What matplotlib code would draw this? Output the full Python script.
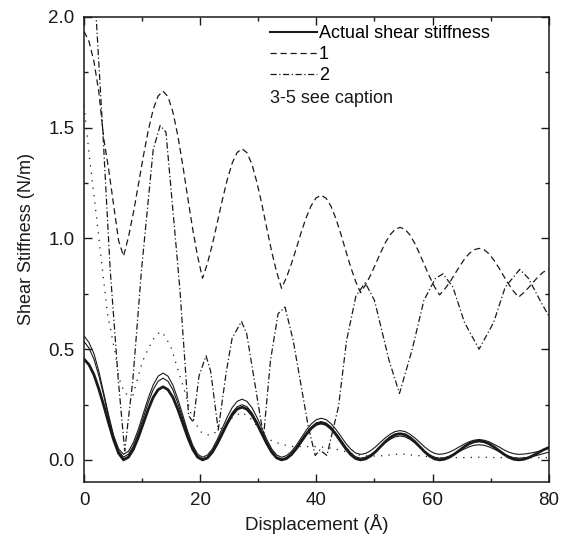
import matplotlib

matplotlib.use("Agg")
import matplotlib.pyplot as plt
from matplotlib.lines import Line2D
from matplotlib.ticker import MultipleLocator, FormatStrFormatter

plt.rcParams["font.family"] = ["Liberation Sans", "DejaVu Sans"]

# common grid for the smooth curves (Å), step 0.85
X_GRID = [0.0, 0.85, 1.7, 2.55, 3.4, 4.25, 5.1, 5.95, 6.8, 7.65, 8.5, 9.35, 10.2, 11.05,
          11.9, 12.75, 13.6, 14.45, 15.3, 16.15, 17.0, 17.85, 18.7, 19.55, 20.4, 21.25,
          22.1, 22.95, 23.8, 24.65, 25.5, 26.35, 27.2, 28.05, 28.9, 29.75, 30.6, 31.45,
          32.3, 33.15, 34.0, 34.85, 35.7, 36.55, 37.4, 38.25, 39.1, 39.95, 40.8, 41.65,
          42.5, 43.35, 44.2, 45.05, 45.9, 46.75, 47.6, 48.45, 49.3, 50.15, 51.0, 51.85,
          52.7, 53.55, 54.4, 55.25, 56.1, 56.95, 57.8, 58.65, 59.5, 60.35, 61.2, 62.05,
          62.9, 63.75, 64.6, 65.45, 66.3, 67.15, 68.0, 68.85, 69.7, 70.55, 71.4, 72.25,
          73.1, 73.95, 74.8, 75.65, 76.5, 77.35, 78.2, 79.05, 80.0]

ACTUAL = [0.455, 0.43, 0.385, 0.32, 0.245, 0.165, 0.09, 0.03, 0.0,
          0.0125, 0.048, 0.102, 0.165, 0.228, 0.282, 0.317, 0.33,
          0.317, 0.282, 0.228, 0.165, 0.102, 0.048, 0.0125, 0.0,
          0.009, 0.035, 0.074, 0.119, 0.164, 0.203, 0.229, 0.238,
          0.229, 0.203, 0.164, 0.119, 0.074, 0.035, 0.009, 0.0,
          0.006, 0.024, 0.051, 0.083, 0.115, 0.142, 0.160, 0.166,
          0.160, 0.142, 0.115, 0.083, 0.051, 0.024, 0.006, 0.0,
          0.0045, 0.017, 0.036, 0.059, 0.082, 0.101, 0.114, 0.118,
          0.114, 0.101, 0.082, 0.059, 0.036, 0.017, 0.0045, 0.0,
          0.003, 0.012, 0.026, 0.0425, 0.059, 0.073, 0.082, 0.085,
          0.082, 0.073, 0.059, 0.0425, 0.026, 0.012, 0.003, 0.0,
          0.0025, 0.0095, 0.020, 0.0325, 0.045, 0.0555]

CURVA_1 = [1.935, 1.89, 1.80, 1.66, 1.45, 1.31, 1.15, 0.99, 0.92,
           1.007, 1.117, 1.242, 1.370, 1.487, 1.582, 1.643, 1.665,
           1.640, 1.571, 1.463, 1.330, 1.185, 1.043, 0.919, 0.82,
           0.888, 0.974, 1.073, 1.173, 1.265, 1.340, 1.388, 1.405,
           1.387, 1.335, 1.254, 1.156, 1.047, 0.941, 0.849, 0.775,
           0.824, 0.886, 0.956, 1.029, 1.095, 1.148, 1.183, 1.195,
           1.182, 1.146, 1.090, 1.021, 0.945, 0.871, 0.806, 0.755,
           0.790, 0.833, 0.882, 0.933, 0.980, 1.017, 1.041, 1.05,
           1.041, 1.016, 0.977, 0.929, 0.877, 0.826, 0.781, 0.745,
           0.770, 0.800, 0.836, 0.872, 0.905, 0.932, 0.949, 0.955,
           0.949, 0.931, 0.902, 0.868, 0.830, 0.793, 0.761, 0.735,
           0.754, 0.777, 0.803, 0.828, 0.848, 0.86]

CURVA_3 = [0.56, 0.53, 0.48, 0.40, 0.30, 0.20, 0.11, 0.05, 0.025,
           0.039, 0.079, 0.138, 0.209, 0.279, 0.338, 0.378, 0.392,
           0.378, 0.337, 0.275, 0.202, 0.129, 0.067, 0.026, 0.012,
           0.022, 0.050, 0.093, 0.143, 0.193, 0.236, 0.264, 0.274,
           0.264, 0.236, 0.193, 0.143, 0.093, 0.050, 0.022, 0.012,
           0.019, 0.038, 0.066, 0.100, 0.134, 0.162, 0.181, 0.188,
           0.182, 0.164, 0.138, 0.107, 0.075, 0.049, 0.031, 0.025,
           0.029, 0.041, 0.058, 0.079, 0.099, 0.116, 0.128, 0.132,
           0.128, 0.116, 0.099, 0.079, 0.058, 0.041, 0.029, 0.025,
           0.028, 0.035, 0.046, 0.059, 0.071, 0.082, 0.089, 0.092,
           0.089, 0.082, 0.071, 0.059, 0.046, 0.035, 0.028, 0.025,
           0.026, 0.029, 0.033, 0.038, 0.045, 0.053]

CURVA_4 = [0.535, 0.505, 0.455, 0.38, 0.29, 0.19, 0.10, 0.04, 0.012,
           0.026, 0.064, 0.122, 0.191, 0.259, 0.317, 0.355, 0.369,
           0.355, 0.316, 0.256, 0.187, 0.117, 0.057, 0.018, 0.004,
           0.013, 0.040, 0.080, 0.127, 0.173, 0.213, 0.240, 0.249,
           0.240, 0.213, 0.173, 0.127, 0.080, 0.040, 0.013, 0.004,
           0.010, 0.029, 0.056, 0.089, 0.121, 0.148, 0.167, 0.173,
           0.167, 0.149, 0.122, 0.091, 0.059, 0.032, 0.014, 0.008,
           0.012, 0.023, 0.039, 0.058, 0.077, 0.093, 0.104, 0.108,
           0.104, 0.093, 0.077, 0.058, 0.039, 0.023, 0.012, 0.008,
           0.010, 0.017, 0.027, 0.038, 0.049, 0.059, 0.066, 0.068,
           0.066, 0.059, 0.049, 0.038, 0.027, 0.017, 0.010, 0.008,
           0.009, 0.012, 0.016, 0.022, 0.028, 0.035]

# curve 2 has its own vertices (sharp oscillation)
X_CURVA_2 = [0.0, 3.3, 4.5, 5.9, 7.0, 8.4, 9.9, 11.9, 13.1, 14.1, 15.9, 16.5, 18.0, 18.8,
             19.8, 21.0, 21.8, 23.1, 24.5, 25.5, 27.1, 28.0, 30.9, 32.1, 33.4, 34.6, 36.0,
             38.6, 39.8, 40.6, 41.8, 43.8, 45.2, 46.8, 48.4, 50.0, 52.5, 54.3, 56.5, 58.5,
             60.5, 61.8, 63.5, 65.5, 68.0, 70.5, 72.5, 75.0, 76.5, 78.5, 80.0]
CURVA_2 = [2.95, 1.45, 0.86, 0.36, 0.04, 0.36, 0.86, 1.40, 1.51, 1.48, 0.95, 0.77, 0.20, 0.17,
           0.38, 0.47, 0.40, 0.135, 0.40, 0.55, 0.625, 0.57, 0.105, 0.45, 0.66, 0.69, 0.54,
           0.15, 0.02, 0.045, 0.02, 0.24, 0.54, 0.74, 0.80, 0.72, 0.45, 0.30, 0.50, 0.72,
           0.82, 0.84, 0.78, 0.62, 0.50, 0.62, 0.78, 0.86, 0.82, 0.72, 0.65]

X_CURVA_5 = [0.0, 1.0, 2.0, 3.0, 4.0, 5.3, 6.0, 7.0, 8.4, 10.0, 11.0, 12.2, 13.2, 14.0, 15.1,
             16.0, 17.1, 18.5, 20.0, 21.1, 22.0, 23.5, 25.5, 27.2, 29.0, 31.0, 32.0, 34.0,
             36.0, 38.0, 40.0, 42.0, 44.0, 47.0, 49.0, 51.0, 54.5, 58.0, 61.0, 65.0, 68.0,
             72.0, 80.0]
CURVA_5 = [1.60, 1.35, 1.13, 0.90, 0.665, 0.49, 0.37, 0.30, 0.29, 0.44, 0.50, 0.557, 0.58,
           0.557, 0.50, 0.42, 0.33, 0.20, 0.128, 0.113, 0.113, 0.14, 0.19, 0.215, 0.18, 0.11,
           0.09, 0.07, 0.06, 0.06, 0.06, 0.055, 0.045, 0.023, 0.017, 0.018, 0.027, 0.018,
           0.01, 0.01, 0.012, 0.01, 0.01]

ETIQUETAS = ["Actual shear stiffness", "1", "2"]
COLOR = "#1a1a1a"


def main():
    fig = plt.figure(figsize=(5.64, 5.43), dpi=100)
    ax = fig.add_axes([0.149, 0.1123, 0.824, 0.8564])

    estilo_1 = (0, (5, 3))
    estilo_2 = (0, (5, 2, 1, 2))

    ax.plot(X_CURVA_5, CURVA_5, color=COLOR, lw=0.9, linestyle=(0, (1, 5)))
    ax.plot(X_GRID, CURVA_3, color=COLOR, lw=0.8)
    ax.plot(X_GRID, CURVA_4, color=COLOR, lw=0.8)
    ax.plot(X_GRID, ACTUAL, color=COLOR, lw=2.0)
    ax.plot(X_GRID, CURVA_1, color=COLOR, lw=0.9, linestyle=estilo_1)
    ax.plot(X_CURVA_2, CURVA_2, color=COLOR, lw=0.9, linestyle=estilo_2)

    ax.set_xlim(0, 80)
    ax.set_ylim(-0.1, 2.0)
    ax.xaxis.set_major_locator(MultipleLocator(20))
    ax.xaxis.set_minor_locator(MultipleLocator(10))
    ax.yaxis.set_major_locator(MultipleLocator(0.5))
    ax.yaxis.set_minor_locator(MultipleLocator(0.25))
    ax.yaxis.set_major_formatter(FormatStrFormatter("%.1f"))
    ax.tick_params(which="both", direction="in", top=True, right=True,
                   labelsize=13.5, colors=COLOR, width=1.0)
    ax.tick_params(which="major", length=5.5, pad=7)
    ax.tick_params(which="minor", length=3)
    for spine in ax.spines.values():
        spine.set_linewidth(1.1)
        spine.set_color(COLOR)

    ax.set_xlabel("Displacement (Å)", fontsize=13.5, color=COLOR, labelpad=3.5)
    ax.set_ylabel("Shear Stiffness (N/m)", fontsize=13, color=COLOR)
    ax.yaxis.set_label_coords(-0.105, 0.5226)

    manejadores = [
        Line2D([], [], color=COLOR, lw=1.5),
        Line2D([], [], color=COLOR, lw=0.9, linestyle=estilo_1),
        Line2D([], [], color=COLOR, lw=0.9, linestyle=estilo_2),
    ]
    ax.legend(manejadores, ETIQUETAS, loc="upper left", bbox_to_anchor=(0.4, 0.983),
              frameon=False, fontsize=13, handlelength=2.6, handletextpad=0.1,
              labelspacing=0.22, borderaxespad=0, borderpad=0)
    ax.text(0.4, 0.824, "3-5 see caption", transform=ax.transAxes, fontsize=13,
            color=COLOR, va="center", ha="left")

    fig.savefig("out.png", dpi=100)
    plt.close(fig)


if __name__ == "__main__":
    main()
